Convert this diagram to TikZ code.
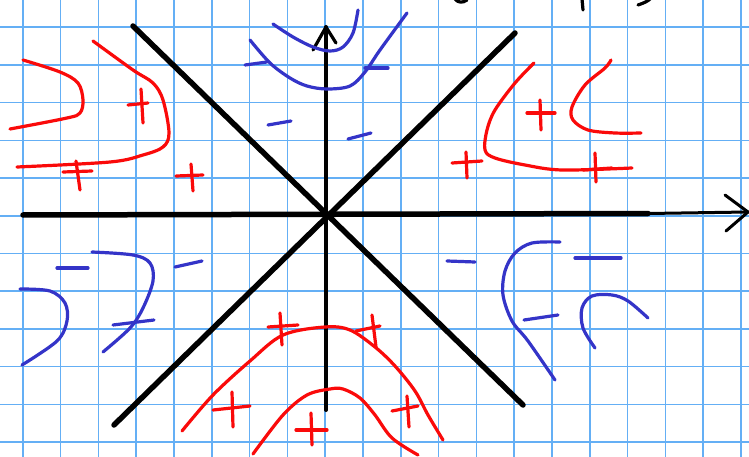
\documentclass[tikz,border=0pt]{standalone}
\begin{document}
\begin{tikzpicture}[x=1pt,y=-1pt,line cap=round,line join=round]
\definecolor{gridblue}{RGB}{100,175,245}
\definecolor{inkred}{RGB}{250,10,10}
\definecolor{inkblue}{RGB}{52,52,200}
\tikzset{
  gridline/.style={draw=gridblue,line width=1.6pt},
  redink/.style={draw=inkred,line width=3.2pt},
  blueink/.style={draw=inkblue,line width=3.2pt},
  blackink/.style={draw=black,line width=5.5pt},
  curve/.style={smooth,tension=0.55}
}
\useasboundingbox (0,0) rectangle (749,457);
\fill[white] (0,0) rectangle (749,457);
% grid
\foreach \k in {0,...,19} {\draw[gridline] ({22.7+37.8*\k},0) -- ({22.7+37.8*\k},457);}
\foreach \k in {0,...,11} {\draw[gridline] (0,{27.3+37.7*\k}) -- (749,{27.3+37.7*\k});}

% black axes and diagonals
\coordinate (d1a) at (133,26); \coordinate (d1b) at (523,405);
\coordinate (d2a) at (515,33); \coordinate (d2b) at (114,425);
\coordinate (xl) at (23,215); \coordinate (xm) at (648,213.5); \coordinate (xr) at (748,212);
\coordinate (yb) at (326,410); \coordinate (yt) at (326,27);
\draw[blackink] (d1a) -- (d1b);
\draw[blackink] (d2a) -- (d2b);
\draw[blackink] (xl) -- (xm);
\draw[black,line width=3pt] (xm) -- (xr);
\draw[black,line width=3pt] (725,195) -- (xr) -- (726,231);
\draw[black,line width=4pt] (yb) -- (yt);
\draw[black,line width=3.2pt] (313,50) -- (yt) -- (336,43);
% fragments of text at top edge
\draw[black,line width=3.2pt] (455,-1) .. controls (458,3) and (463,3) .. (467,0);
\draw[black,line width=3.2pt] (582,-1) -- (583,10);
\draw[black,line width=3.2pt] (638,5) .. controls (644,3) and (648,1) .. (650,-1);

% upper left (red)
\draw[redink] plot[curve] coordinates {(23,60) (60,72) (78,83) (83,100) (80,113) (67,118) (10,129)};
\draw[redink] plot[curve] coordinates {(93,41) (133,70) (153,83) (163,100) (169,133) (163,147) (143,155) (110,162) (17,167)};
\draw[redink] (128,105) -- (148,103); \draw[redink] (141,89) -- (143,123);
\draw[redink] (63,172) -- (92,171); \draw[redink] (76,161) -- (80,190);
\draw[redink] (176,176) -- (203,175); \draw[redink] (191,164) -- (193,191);

% top (blue)
\draw[blueink] plot[curve] coordinates {(273,24) (293,37) (313,47) (330,51) (343,47) (353,33) (358,10)};
\draw[blueink] plot[curve] coordinates {(250,40) (270,63) (290,78) (307,86) (327,89) (350,86) (365,72) (380,50) (407,13)};
\draw[blueink] (245,65) -- (267,62);
\draw[blueink] (365,68) -- (388,68);
\draw[blueink] (268,125) -- (291,121);
\draw[blueink] (348,139) -- (371,133);

% upper right (red)
\draw[redink] plot[curve] coordinates {(534,63) (515,83) (495,110) (487,130) (485,150) (495,158) (525,165) (562,170) (632,168)};
\draw[redink] plot[curve] coordinates {(611,60) (605,68) (585,85) (572,107) (573,120) (588,130) (615,133) (641,133)};
\draw[redink] (527,113) -- (555,113); \draw[redink] (540,100) -- (541,130);
\draw[redink] (452,163) -- (482,161); \draw[redink] (466,152) -- (467,178);
\draw[redink] (583,170) -- (612,168); \draw[redink] (595,153) -- (596,182);

% lower left (blue)
\draw[blueink] plot[curve] coordinates {(20,289) (50,291) (65,303) (67,321) (57,341) (22,365)};
\draw[blueink] (57,268) -- (88,268);
\draw[blueink] plot[curve] coordinates {(92,252) (133,255) (150,263) (153,281) (143,308) (130,328) (103,352)};
\draw[blueink] (113,325) -- (154,320);
\draw[blueink] (175,267) -- (202,261);

% bottom (red)
\draw[redink] plot[curve] coordinates {(182,431) (213,395) (250,361) (283,335) (325,327) (350,330) (375,347) (395,366) (415,391) (428,415) (443,440)};
\draw[redink] (268,327) -- (298,325); \draw[redink] (280,313) -- (282,345);
\draw[redink] (356,331) -- (380,326); \draw[redink] (372,315) -- (376,347);
\draw[redink] (213,410) -- (250,406); \draw[redink] (232,392) -- (233,427);
\draw[redink] plot[curve] coordinates {(253,454) (283,415) (307,395) (330,389) (343,389) (360,398) (375,415) (392,438) (418,455)};
\draw[redink] (296,430) -- (327,430); \draw[redink] (311,413) -- (312,445);
\draw[redink] (392,411) -- (418,406); \draw[redink] (407,396) -- (409,427);

% lower right (blue)
\draw[blueink] plot[curve] coordinates {(560,242) (532,243) (515,253) (505,271) (503,295) (512,321) (528,341) (555,380)};
\draw[blueink] (524,320) -- (558,315);
\draw[blueink] (447,261) -- (475,262);
\draw[blueink] (575,258) -- (621,258);
\draw[blueink] plot[curve] coordinates {(595,348) (583,328) (582,308) (592,296) (612,295) (628,301) (648,318)};
\end{tikzpicture}
\end{document}
